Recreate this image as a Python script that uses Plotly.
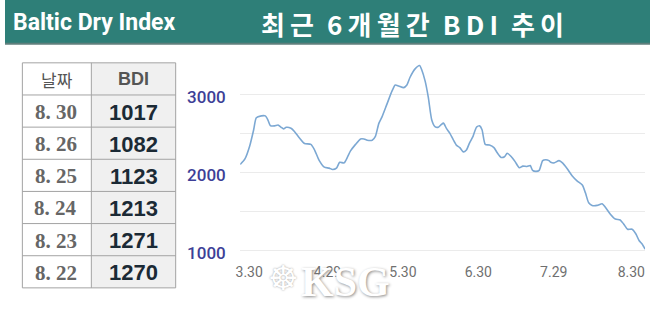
import plotly.graph_objects as go

W, H = 650, 310

# ---- data ----
# calendar days after 3.30 (position along the time axis) and BDI value
day = [0.0, 1.8, 3.6, 5.1, 6.1, 8.0, 9.5, 10.5, 11.4, 13.0, 14.3, 15.5, 16.4, 17.4,
       19.2, 20.5, 22.4, 24.3, 26.7, 28.0, 29.9, 31.8, 33.6, 34.9, 36.4, 37.6, 39.3,
       40.5, 41.7, 43.6, 45.5, 46.8, 48.0, 49.9, 51.1, 52.4, 53.6, 55.5, 57.4, 58.6,
       59.9, 61.8, 63.0, 64.2, 66.1, 67.8, 68.6, 69.9, 71.1, 72.4, 73.6, 74.9, 76.1,
       76.8, 78.0, 79.2, 80.5, 81.8, 83.0, 84.3, 85.5, 86.7, 88.0, 89.3, 90.5, 91.4,
       92.6, 94.2, 95.9, 97.1, 98.6, 99.9, 100.9, 102.4, 103.9, 105.5, 106.8, 108.4,
       109.6, 110.5, 111.8, 113.0, 114.3, 115.5, 116.7, 117.4, 118.6, 120.5, 121.8,
       123.6, 125.5, 127.4, 129.3, 130.5, 131.7, 133.0, 134.9, 136.8, 138.0, 139.9,
       141.8, 143.6, 144.9, 146.4, 148.1, 149.5, 150.8, 151.9, 153.0]
bdi = [2100, 2171, 2337, 2545, 2698, 2723, 2723, 2670, 2599, 2595, 2607, 2577, 2557, 2577,
       2565, 2524, 2440, 2370, 2358, 2295, 2150, 2066, 2054, 2037, 2054, 2128, 2121,
       2191, 2274, 2358, 2428, 2428, 2412, 2412, 2461, 2627, 2711, 2877, 3043, 3118,
       3106, 3085, 3118, 3218, 3325, 3368, 3314, 3168, 2960, 2670, 2586, 2578, 2615,
       2630, 2560, 2503, 2420, 2345, 2316, 2262, 2287, 2378, 2461, 2578, 2595, 2545,
       2358, 2349, 2316, 2253, 2191, 2200, 2245, 2203, 2137, 2058, 2079, 2075,
       2087, 2025, 2012, 2025, 2150, 2162, 2150, 2128, 2121, 2150, 2121,
       2046, 1954, 1888, 1838, 1734, 1610, 1576, 1576, 1597, 1553, 1464,
       1401, 1389, 1339, 1270, 1271, 1213, 1123, 1082, 1017]

x_tick_pos = [3.4, 33.0, 61.5, 90.0, 118.5, 147.8]
x_tick_labels = ["3.30", "4.29", "5.30", "6.30", "7.29", "8.30"]
y_grid_vals = [1000, 1500, 2000, 2500, 3000]
y_grid_labels = ["1000", "", "2000", "", "3000"]

table_dates = ["8. 30", "8. 26", "8. 25", "8. 24", "8. 23", "8. 22"]
table_bdi = [1017, 1082, 1123, 1213, 1271, 1270]
table_header = ["날짜", "BDI"]

main_title = "최\u2009근\u20026\u2009개\u2009월\u2009간\u2002B\u2009D\u2009I\u2002추\u2009이"
left_title = "Baltic Dry Index"

# table geometry (pixels)
TBL_X = [17.5, 87.0, 172.0]
TBL_TOP = 64.5
ROW_H = 33.0


def px_x(p):
    return p / W


def px_y(p):
    return 1 - p / H


fig = go.Figure()

fig.add_trace(go.Scatter(
    x=day, y=bdi, mode="lines",
    line=dict(color="#7ca8d3", width=1.6, shape="spline", smoothing=0.6),
    hoverinfo="skip", showlegend=False,
))

shapes = [
    dict(type="rect", xref="paper", yref="paper", x0=0, x1=1, y0=px_y(45), y1=1,
         fillcolor="#2e7f78", line_width=0, layer="below"),
    dict(type="line", xref="paper", yref="paper", x0=0, x1=1, y0=px_y(45), y1=px_y(45),
         line=dict(color="#5f7f7c", width=2)),
]
annotations = []

# ---- table (cells drawn as shapes, texts as annotations) ----
n_rows = len(table_dates) + 1
tbl_bottom = TBL_TOP + ROW_H * n_rows
shapes.append(dict(type="rect", xref="paper", yref="paper",
                   x0=px_x(TBL_X[1]), x1=px_x(TBL_X[2]),
                   y0=px_y(tbl_bottom), y1=px_y(TBL_TOP),
                   fillcolor="#f0f0f0", line_width=0, layer="below"))
for r in range(n_rows + 1):
    yy = px_y(TBL_TOP + ROW_H * r)
    shapes.append(dict(type="line", xref="paper", yref="paper",
                       x0=px_x(TBL_X[0]), x1=px_x(TBL_X[2]), y0=yy, y1=yy,
                       line=dict(color="#a3a3a3", width=1)))
for xx in TBL_X:
    shapes.append(dict(type="line", xref="paper", yref="paper",
                       x0=px_x(xx), x1=px_x(xx),
                       y0=px_y(tbl_bottom), y1=px_y(TBL_TOP),
                       line=dict(color="#a3a3a3", width=1)))

col_c = [(TBL_X[0] + TBL_X[1]) / 2, (TBL_X[1] + TBL_X[2]) / 2]
hy = px_y(TBL_TOP + ROW_H / 2 + 0.5)
annotations.append(dict(text=table_header[0], xref="paper", yref="paper",
                        x=px_x(col_c[0]), y=hy, xanchor="center", yanchor="middle",
                        showarrow=False,
                        font=dict(family="Noto Sans CJK KR", size=17, color="#555555")))
annotations.append(dict(text="<b>%s</b>" % table_header[1], xref="paper", yref="paper",
                        x=px_x(col_c[1]), y=hy, xanchor="center", yanchor="middle",
                        showarrow=False,
                        font=dict(family="Liberation Sans", size=18, color="#555555")))
for i, (d, v) in enumerate(zip(table_dates, table_bdi)):
    cy = px_y(TBL_TOP + ROW_H * (i + 1) + ROW_H / 2 + 1)
    annotations.append(dict(text="<b>%s</b>" % d, xref="paper", yref="paper",
                            x=px_x(col_c[0] - 1), y=cy, xanchor="center", yanchor="middle",
                            showarrow=False,
                            font=dict(family="Liberation Serif", size=21, color="#666666")))
    annotations.append(dict(text="<b>%d</b>" % v, xref="paper", yref="paper",
                            x=px_x(col_c[1]), y=cy, xanchor="center", yanchor="middle",
                            showarrow=False,
                            font=dict(family="Liberation Sans", size=22, color="#1b2a35")))

# ---- titles and watermark ----
annotations += [
    dict(text=left_title, xref="paper", yref="paper", x=px_x(6), y=px_y(23),
         xanchor="left", yanchor="middle", showarrow=False,
         font=dict(family="Roboto", size=23, color="#ffffff", weight="bold")),
    dict(text=main_title, xref="paper", yref="paper", x=px_x(411), y=px_y(24),
         xanchor="center", yanchor="middle", showarrow=False,
         font=dict(family="Noto Sans CJK KR", size=26, color="#ffffff", weight="bold")),
    dict(text="☸", xref="paper", yref="paper", x=px_x(280), y=px_y(285),
         xanchor="center", yanchor="middle", showarrow=False,
         font=dict(family="DejaVu Sans", size=34, color="#ffffff",
                   shadow="0px 0px 2px #9a9a9a")),
    dict(text="<b>KSG</b>", xref="paper", yref="paper", x=px_x(343), y=px_y(289),
         xanchor="center", yanchor="middle", showarrow=False,
         font=dict(family="Liberation Serif", size=42, color="#ffffff",
                   shadow="1px 1px 3px #8a8a8a")),
]

fig.update_layout(
    width=W, height=H,
    margin=dict(l=0, r=0, t=0, b=0),
    paper_bgcolor="#ffffff", plot_bgcolor="#ffffff",
    shapes=shapes, annotations=annotations,
    xaxis=dict(
        domain=[px_x(237), px_x(645)], range=[0, 153],
        showgrid=False, zeroline=False, showline=False,
        tickmode="array", tickvals=x_tick_pos, ticktext=x_tick_labels,
        ticks="outside", ticklen=4, tickcolor="rgba(0,0,0,0)",
        tickfont=dict(family="Roboto", size=14, color="#707070"),
    ),
    yaxis=dict(
        domain=[px_y(262), px_y(60)], range=[937.6, 3459],
        showgrid=True, gridcolor="#ebebeb", gridwidth=1,
        zeroline=False, showline=False,
        tickmode="array", tickvals=y_grid_vals, ticktext=y_grid_labels,
        ticks="outside", ticklen=10, tickcolor="rgba(0,0,0,0)",
        ticklabelshift=3,
        tickfont=dict(family="Roboto", size=17, color="#3d3f97", weight=500),
    ),
)

fig.write_html("out.html")
